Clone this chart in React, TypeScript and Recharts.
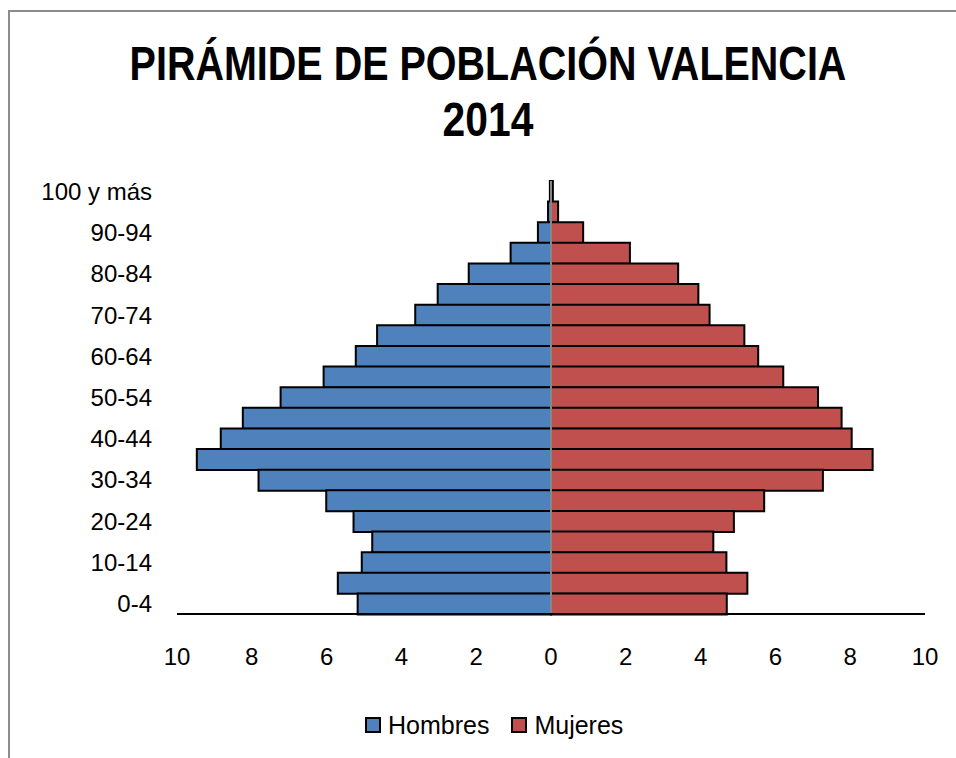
import {
  Bar,
  BarChart,
  Legend,
  ReferenceLine,
  XAxis,
  YAxis,
} from "recharts";

const EDADES = [
  "100 y más", "95-99", "90-94", "85-89", "80-84", "75-79", "70-74",
  "65-69", "60-64", "55-59", "50-54", "45-49", "40-44", "35-39",
  "30-34", "25-29", "20-24", "15-19", "10-14", "5-9", "0-4",
];

// porcentaje sobre el total, de 100+ hasta 0-4
const HOMBRES = [
  0.03, 0.08, 0.35, 1.08, 2.2, 3.03, 3.63, 4.65, 5.22, 6.08, 7.23,
  8.24, 8.83, 9.47, 7.82, 6.01, 5.28, 4.78, 5.06, 5.7, 5.17,
];
const MUJERES = [
  0.05, 0.19, 0.86, 2.11, 3.4, 3.94, 4.24, 5.17, 5.54, 6.21, 7.14,
  7.77, 8.04, 8.6, 7.27, 5.7, 4.89, 4.34, 4.69, 5.25, 4.7,
];

const X_TICKS = [-10, -8, -6, -4, -2, 0, 2, 4, 6, 8, 10];

const data = EDADES.map((edad, i) => ({
  edad,
  hombres: -HOMBRES[i],
  mujeres: MUJERES[i],
}));

const FONT = "'Liberation Sans', Arial, sans-serif";
const AZUL = "#4F81BD";
const ROJO = "#C0504D";

const LegendBox = () => (
  <div
    style={{
      display: "flex",
      alignItems: "center",
      fontFamily: FONT,
      fontSize: 25,
      color: "#000",
      lineHeight: "30px",
    }}
  >
    <span style={{ width: 12, height: 12, border: "2px solid #000", background: AZUL, marginRight: 7 }} />
    <span>Hombres</span>
    <span style={{ width: 12, height: 12, border: "2px solid #000", background: ROJO, marginLeft: 22, marginRight: 7 }} />
    <span>Mujeres</span>
  </div>
);

const titleLine = (top: number, size: number, scale: number) => ({
  position: "absolute" as const,
  left: 10,
  top,
  width: 956,
  textAlign: "center" as const,
  fontFamily: FONT,
  fontWeight: "bold" as const,
  fontSize: size,
  whiteSpace: "nowrap" as const,
  color: "#000",
  transform: `scaleX(${scale})`,
  transformOrigin: "center",
});

export default function App() {
  return (
    <div
      style={{
        position: "fixed",
        left: 0,
        top: 0,
        width: 956,
        height: 758,
        background: "#fff",
        overflow: "hidden",
      }}
    >
      <div
        style={{
          position: "absolute",
          left: 8,
          top: 10,
          width: 1000,
          height: 800,
          borderLeft: "2px solid #8c8c8c",
          borderTop: "2px solid #8c8c8c",
        }}
      />
      <div style={titleLine(35, 49, 0.806)}>PIRÁMIDE DE POBLACIÓN VALENCIA</div>
      <div style={titleLine(92, 48, 0.85)}>2014</div>
      <div style={{ position: "absolute", left: 0, top: 0 }}>
        <BarChart
          width={956}
          height={758}
          data={data}
          layout="vertical"
          stackOffset="sign"
          barCategoryGap={0}
          margin={{ top: 181, right: 31, bottom: 94, left: 0 }}
        >
          <XAxis
            type="number"
            domain={[-10, 10]}
            ticks={X_TICKS}
            tickFormatter={(v: number) => String(Math.abs(v))}
            axisLine={{ stroke: "#000", strokeWidth: 2 }}
            tickLine={false}
            tickSize={0}
            tickMargin={34}
            height={50}
            tick={{ fill: "#000", fontSize: 24, fontFamily: FONT }}
          />
          <YAxis
            type="category"
            dataKey="edad"
            width={177}
            interval={1}
            axisLine={false}
            tickLine={false}
            tickSize={0}
            tickMargin={25}
            tick={{ fill: "#000", fontSize: 24, fontFamily: FONT }}
          />
          <Bar
            dataKey="hombres"
            name="Hombres"
            stackId="p"
            fill={AZUL}
            stroke="#000"
            strokeWidth={2}
            isAnimationActive={false}
          />
          <Bar
            dataKey="mujeres"
            name="Mujeres"
            stackId="p"
            fill={ROJO}
            stroke="#000"
            strokeWidth={2}
            isAnimationActive={false}
          />
          <ReferenceLine x={0} stroke="#868686" strokeWidth={2} />
          <Legend
            layout="horizontal"
            verticalAlign="middle"
            align="center"
            content={<LegendBox />}
            wrapperStyle={{ top: 710, left: 365, width: 260 }}
          />
        </BarChart>
      </div>
    </div>
  );
}
